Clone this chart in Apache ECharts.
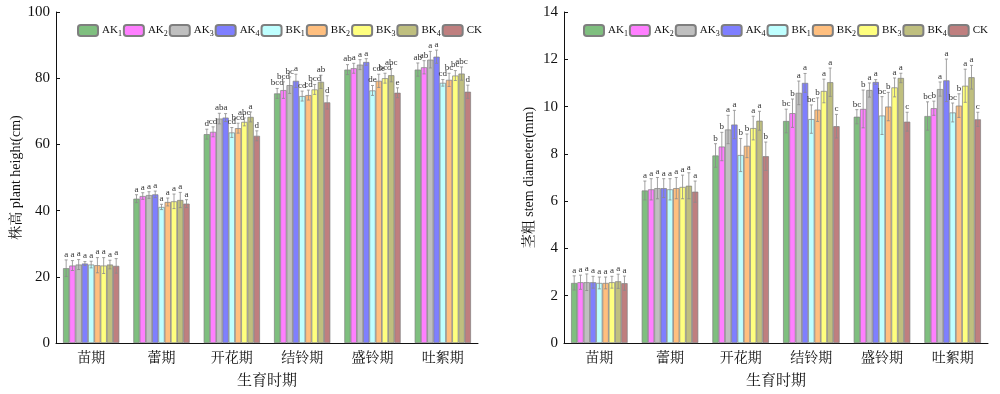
<!DOCTYPE html>
<html><head><meta charset="utf-8">
<script src="https://cdn.jsdelivr.net/npm/echarts@6/dist/echarts.min.js"></script>
<style>html,body{margin:0;padding:0;background:#fff}#c{width:1000px;height:394px}</style>
</head><body><div id="c"></div>
<script>
const categories = ['苗期','蕾期','开花期','结铃期','盛铃期','吐絮期'];
const seriesNames = ['AK1','AK2','AK3','AK4','BK1','BK2','BK3','BK4','CK'];
const colors = ['rgba(0,128,0,0.5)','rgba(255,0,255,0.5)','rgba(128,128,128,0.5)','rgba(0,0,255,0.5)','rgba(128,255,255,0.5)','rgba(255,128,0,0.5)','rgba(255,255,0,0.5)','rgba(128,128,0,0.5)','rgba(128,0,0,0.5)'];
const heightTicks = [0,20,40,60,80,100];
const stemTicks = [0,2,4,6,8,10,12,14];

// plant height (cm): one row per series, one column per stage
const heightAK1 = [22.6, 43.6, 63.1, 75.4, 82.6, 82.6];
const heightAK2 = [23.4, 44.4, 63.8, 76.4, 83.0, 83.3];
const heightAK3 = [23.7, 44.7, 67.8, 77.9, 84.1, 85.6];
const heightAK4 = [24.0, 44.9, 68.1, 79.2, 84.9, 86.5];
const heightBK1 = [23.7, 41.1, 63.6, 74.6, 76.3, 78.6];
const heightBK2 = [23.5, 42.6, 64.9, 74.9, 79.2, 79.5];
const heightBK3 = [23.4, 42.8, 66.8, 76.6, 80.0, 80.8];
const heightBK4 = [23.7, 43.2, 68.3, 78.9, 80.9, 81.4];
const heightCK  = [23.3, 42.1, 62.6, 72.7, 75.6, 75.9];
const heightErrAK1 = [2.5, 1.2, 1.5, 1.5, 1.5, 2.0];
const heightErrAK2 = [1.5, 1.0, 1.5, 2.5, 1.5, 2.0];
const heightErrAK3 = [1.5, 1.0, 1.6, 2.5, 1.5, 2.5];
const heightErrAK4 = [0.6, 1.0, 1.2, 2.0, 1.0, 2.0];
const heightErrBK1 = [1.0, 0.8, 1.5, 1.5, 1.5, 1.0];
const heightErrBK2 = [2.3, 1.2, 1.5, 1.5, 2.0, 2.0];
const heightErrBK3 = [2.4, 2.2, 1.2, 1.5, 1.5, 1.5];
const heightErrBK4 = [1.3, 2.3, 1.5, 2.0, 2.0, 2.0];
const heightErrCK  = [2.2, 1.2, 1.5, 2.0, 1.5, 2.0];
const heightLetAK1 = ['a','a','d','bcd','ab','ab'];
const heightLetAK2 = ['a','a','cd','bcd','a','ab'];
const heightLetAK3 = ['a','a','ab','bc','a','a'];
const heightLetAK4 = ['a','a','a','a','a','a'];
const heightLetBK1 = ['a','a','cd','cd','de','cd'];
const heightLetBK2 = ['a','a','bcd','cd','cde','bc'];
const heightLetBK3 = ['a','a','abc','bcd','bcd','bc'];
const heightLetBK4 = ['a','a','a','ab','abc','abc'];
const heightLetCK  = ['a','a','d','d','e','d'];

// stem diameter (mm)
const stemAK1 = [2.54, 6.45, 7.93, 9.39, 9.57, 9.60];
const stemAK2 = [2.57, 6.50, 8.31, 9.72, 9.90, 9.93];
const stemAK3 = [2.57, 6.55, 9.03, 10.58, 10.70, 10.74];
const stemAK4 = [2.57, 6.55, 9.24, 11.00, 11.04, 11.11];
const stemBK1 = [2.54, 6.50, 7.95, 9.47, 9.62, 9.75];
const stemBK2 = [2.54, 6.55, 8.34, 9.87, 10.00, 10.04];
const stemBK3 = [2.57, 6.60, 9.09, 10.66, 10.81, 10.88];
const stemBK4 = [2.61, 6.65, 9.40, 11.03, 11.21, 11.24];
const stemCK  = [2.53, 6.40, 7.90, 9.17, 9.36, 9.46];
const stemErrAK1 = [0.30, 0.40, 0.50, 0.50, 0.30, 0.60];
const stemErrAK2 = [0.30, 0.45, 0.60, 0.60, 0.80, 0.30];
const stemErrAK3 = [0.35, 0.45, 0.60, 0.50, 0.30, 0.30];
const stemErrAK4 = [0.25, 0.40, 0.60, 0.40, 0.10, 0.90];
const stemErrBK1 = [0.25, 0.45, 0.70, 0.60, 0.80, 0.40];
const stemErrBK2 = [0.25, 0.45, 0.50, 0.50, 0.60, 0.50];
const stemErrBK3 = [0.25, 0.50, 0.50, 0.50, 0.40, 0.70];
const stemErrBK4 = [0.30, 0.55, 0.40, 0.60, 0.20, 0.50];
const stemErrCK  = [0.30, 0.45, 0.60, 0.50, 0.40, 0.30];
const stemLetAK1 = ['a','a','b','bc','bc','bc'];
const stemLetAK2 = ['a','a','b','b','b','b'];
const stemLetAK3 = ['a','a','a','a','a','a'];
const stemLetAK4 = ['a','a','a','a','a','a'];
const stemLetBK1 = ['a','a','b','bc','bc','bc'];
const stemLetBK2 = ['a','a','b','b','b','b'];
const stemLetBK3 = ['a','a','a','a','a','a'];
const stemLetBK4 = ['a','a','a','a','a','a'];
const stemLetCK  = ['a','a','b','c','c','c'];

const heightVals = [heightAK1,heightAK2,heightAK3,heightAK4,heightBK1,heightBK2,heightBK3,heightBK4,heightCK];
const heightErrs = [heightErrAK1,heightErrAK2,heightErrAK3,heightErrAK4,heightErrBK1,heightErrBK2,heightErrBK3,heightErrBK4,heightErrCK];
const heightLets = [heightLetAK1,heightLetAK2,heightLetAK3,heightLetAK4,heightLetBK1,heightLetBK2,heightLetBK3,heightLetBK4,heightLetCK];
const stemVals = [stemAK1,stemAK2,stemAK3,stemAK4,stemBK1,stemBK2,stemBK3,stemBK4,stemCK];
const stemErrs = [stemErrAK1,stemErrAK2,stemErrAK3,stemErrAK4,stemErrBK1,stemErrBK2,stemErrBK3,stemErrBK4,stemErrCK];
const stemLets = [stemLetAK1,stemLetAK2,stemLetAK3,stemLetAK4,stemLetBK1,stemLetBK2,stemLetBK3,stemLetBK4,stemLetCK];

const SERIF = '"Liberation Serif","Times New Roman","Noto Serif CJK SC","Noto Sans CJK SC",serif';
const nS = seriesNames.length;
const GAP = 0.2;

function errSeries(axisIdx, vals, errs, lets) {
  const data = [], letters = [];
  for (let s = 0; s < nS; s++) for (let c = 0; c < categories.length; c++) {
    data.push([c, s, vals[s][c], errs[s][c]]);
    letters.push(lets[s][c]);
  }
  return {
    type: 'custom', xAxisIndex: axisIdx, yAxisIndex: axisIdx, z: 10, silent: true,
    encode: {x: 0, y: 2},
    data: data,
    renderItem: function (params, api) {
      const c = api.value(0), s = api.value(1), v = api.value(2), e = api.value(3);
      const band = api.size([1, 0])[0];
      const bw = band * (1 - GAP) / nS;
      const cx = api.coord([c, v])[0] - band * (1 - GAP) / 2 + (s + 0.5) * bw;
      const yt = api.coord([c, v + e])[1];
      const yb = api.coord([c, v - e])[1];
      const st = {stroke: '#8a8a8a', lineWidth: 0.8};
      return {type: 'group', children: [
        {type: 'line', shape: {x1: cx, y1: yt, x2: cx, y2: yb}, style: st},
        {type: 'line', shape: {x1: cx - 1.5, y1: yt, x2: cx + 1.5, y2: yt}, style: st},
        {type: 'line', shape: {x1: cx - 1.5, y1: yb, x2: cx + 1.5, y2: yb}, style: st},
        {type: 'text', style: {text: letters[params.dataIndex], x: cx, y: yt - 1, align: 'center', verticalAlign: 'bottom',
          font: '9px ' + SERIF, fill: '#333'}}
      ]};
    }
  };
}

const series = [];
[heightVals, stemVals].forEach(function (vals, ai) {
  for (let s = 0; s < nS; s++) {
    series.push({
      type: 'bar', name: seriesNames[s], xAxisIndex: ai, yAxisIndex: ai,
      data: vals[s], barGap: '0%', barCategoryGap: (GAP * 100) + '%',
      itemStyle: {color: colors[s], borderColor: '#7f7f7f', borderWidth: 0.7},
      emphasis: {disabled: true}
    });
  }
});
series.push(errSeries(0, heightVals, heightErrs, heightLets));
series.push(errSeries(1, stemVals, stemErrs, stemLets));

function legendCfg(left) {
  return {
    left: left, top: 19, width: 520, itemWidth: 20, itemHeight: 11, itemGap: 1, data: seriesNames,
    selectedMode: false,
    formatter: function (n) {
      const m = n.match(/^([A-Z]+)(\d*)$/);
      return m[2] ? '{a|' + m[1] + '}{s|' + m[2] + '}' : '{a|' + m[1] + '}';
    },
    textStyle: {padding: [0, 0, 0, -1], rich: {
      a: {fontFamily: SERIF, fontSize: 11, color: '#111', lineHeight: 14},
      s: {fontFamily: SERIF, fontSize: 8, color: '#111', lineHeight: 14, verticalAlign: 'bottom', padding: [4, 0, 0, 0]}
    }}
  };
}

const axisLine = {show: true, lineStyle: {color: '#111', width: 1}};
function xAx(gi) {
  return {type: 'category', gridIndex: gi, data: categories,
    axisLine: axisLine, axisTick: {show: false},
    axisLabel: {fontFamily: SERIF, fontSize: 14, color: '#111', margin: 8},
    name: '生育时期', nameLocation: 'middle', nameGap: 31,
    nameTextStyle: {fontFamily: SERIF, fontSize: 15, color: '#111'}};
}
function yAx(gi, max, interval, name) {
  return {type: 'value', gridIndex: gi, min: 0, max: max, interval: interval,
    axisLine: axisLine, axisTick: {show: true, inside: true, length: 4, lineStyle: {color: '#111'}},
    splitLine: {show: false},
    axisLabel: {fontFamily: SERIF, fontSize: 15, color: '#111', margin: 6},
    name: name, nameLocation: 'middle', nameGap: 28, nameRotate: 90,
    nameTextStyle: {fontFamily: SERIF, fontSize: 14, color: '#111'}};
}

const chart = echarts.init(document.getElementById('c'), null, {renderer: 'canvas'});
chart.setOption({
  animation: false,
  backgroundColor: '#fff',
  legend: [legendCfg(72), legendCfg(578)],
  grid: [
    {left: 56, top: 12, width: 422, height: 338},
    {left: 564, top: 12, width: 424, height: 338}
  ],
  xAxis: [xAx(0), xAx(1)],
  yAxis: [yAx(0, heightTicks[heightTicks.length - 1], heightTicks[1] - heightTicks[0], '株高 plant height(cm)'),
          yAx(1, stemTicks[stemTicks.length - 1], stemTicks[1] - stemTicks[0], '茎粗 stem diameter(mm)')],
  series: series
});
</script></body></html>
